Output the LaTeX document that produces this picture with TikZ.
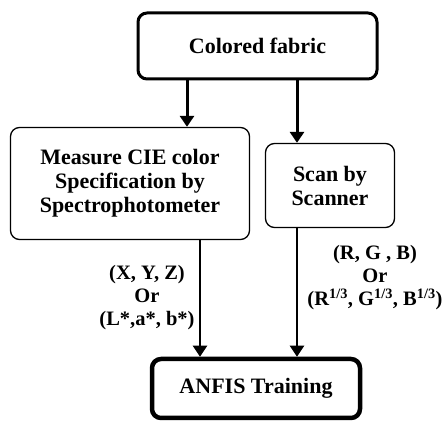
\documentclass[tikz,border=0pt]{standalone}
\usepackage{fontspec}
\setmainfont{Liberation Serif}
\usetikzlibrary{positioning, arrows.meta}

\begin{document}
\begin{tikzpicture}[x=1pt, y=-1pt,
    every node/.style={font=\bfseries\fontsize{22}{24}\selectfont, align=center},
    box/.style={draw, rounded corners=9pt, line width=1.3pt, inner sep=0pt},
    arr/.style={-{Triangle[length=11pt, width=14pt]}, line width=3pt},
    lbl/.style={font=\bfseries\fontsize{20.5}{23}\selectfont, inner sep=0pt}]
			\useasboundingbox (0,0) rectangle (448,425);
			\node[box, line width=3pt, minimum width=239pt, minimum height=66pt] (fabric) at (257.5,46) {Colored fabric};
			\node[box, minimum width=239pt, minimum height=112pt] (measure) at (130,183.5) {Measure CIE color\\Specification by\\Spectrophotometer};
			\node[box, minimum width=129pt, minimum height=84pt] (scan) at (330,185.5) {Scan by\\Scanner};
			\node[box, line width=4.5pt, minimum width=208pt, minimum height=59pt] (anfis) at (256,388.5) {ANFIS Training};
			\draw[arr] ([xshift=-70.5pt]fabric.south) -- ([xshift=-70.5pt]fabric.south |- measure.north);
			\draw[arr] ([xshift=39.5pt]fabric.south) -- ([xshift=39.5pt]fabric.south |- scan.north);
			\draw[arr, line width=2.2pt] ([xshift=70pt]measure.south) -- ([xshift=70pt]measure.south |- anfis.north);
			\draw[arr, line width=2.2pt] ([xshift=-33pt]scan.south) -- ([xshift=-33pt]scan.south |- anfis.north);
			\node[lbl] (xyz) at (147,298) {(X, Y, Z)\\Or\\(L*,a*, b*)};
			\node[lbl] (rgb) at (375,278) {(R, G , B)\\Or\\(R\textsuperscript{1/3}, G\textsuperscript{1/3}, B\textsuperscript{1/3})};
		\end{tikzpicture}
\end{document}
